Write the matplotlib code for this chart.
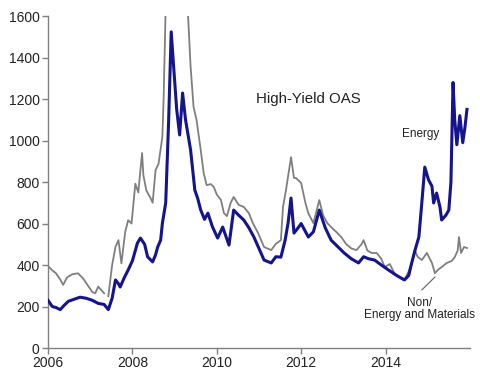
import numpy as np
import matplotlib
matplotlib.use("Agg")
import matplotlib.pyplot as plt

plt.rcParams['font.family'] = ['Liberation Sans', 'DejaVu Sans']

energy_years = [2006.00, 2006.10, 2006.19, 2006.29, 2006.38, 2006.48, 2006.62, 2006.76, 2006.90, 2007.05,
                2007.19, 2007.33, 2007.43, 2007.52, 2007.60, 2007.67, 2007.71, 2007.81, 2007.90, 2008.00,
                2008.12, 2008.19, 2008.29, 2008.36, 2008.48, 2008.55, 2008.60, 2008.67, 2008.71, 2008.79,
                2008.86, 2008.92, 2008.98, 2009.05, 2009.12, 2009.19, 2009.26, 2009.38, 2009.48, 2009.55,
                2009.62, 2009.71, 2009.79, 2009.90, 2010.02, 2010.14, 2010.29, 2010.40, 2010.52, 2010.64,
                2010.76, 2010.88, 2011.00, 2011.12, 2011.29, 2011.40, 2011.52, 2011.62, 2011.69, 2011.76,
                2011.83, 2011.93, 2012.00, 2012.17, 2012.29, 2012.43, 2012.57, 2012.71, 2012.86, 2013.02,
                2013.19, 2013.36, 2013.48, 2013.60, 2013.74, 2013.90, 2014.07, 2014.26, 2014.45, 2014.55,
                2014.62, 2014.71, 2014.79, 2014.86, 2014.93, 2015.02, 2015.10, 2015.14, 2015.21, 2015.29,
                2015.33, 2015.43, 2015.50, 2015.55, 2015.60, 2015.64, 2015.69, 2015.76, 2015.83, 2015.88,
                2015.93]
energy_oas = [230, 200, 195, 185, 205, 225, 235, 245, 240, 230,
              215, 210, 185, 240, 328, 310, 294, 340, 376, 420,
              506, 530, 500, 440, 415, 450, 487, 520, 600, 700,
              1100, 1524, 1350, 1150, 1027, 1229, 1100, 954, 761, 720,
              665, 620, 650, 583, 530, 583, 496, 665, 640, 617,
              580, 535, 480, 424, 410, 440, 438, 520, 602, 723,
              554, 580, 600, 535, 560, 665, 580, 520, 490, 458,
              430, 410, 440, 430, 424, 400, 376, 350, 328, 350,
              410, 480, 535, 700, 872, 810, 780, 699, 747, 680,
              617, 640, 665, 800, 1280, 1100, 980, 1120, 990, 1060,
              1150]

other_years = [2006.00, 2006.10, 2006.19, 2006.29, 2006.36, 2006.45, 2006.57, 2006.71, 2006.83, 2006.95,
               2007.05, 2007.12, 2007.19, 2007.26, 2007.33, 2007.38, 2007.43, 2007.52, 2007.60, 2007.67,
               2007.74, 2007.83, 2007.90, 2007.98, 2008.07, 2008.14, 2008.23, 2008.26, 2008.33, 2008.43,
               2008.48, 2008.55, 2008.62, 2008.71, 2008.74, 2008.79, 2008.90, 2009.05, 2009.19, 2009.32,
               2009.38, 2009.45, 2009.52, 2009.62, 2009.69, 2009.76, 2009.86, 2009.93, 2010.00, 2010.10,
               2010.17, 2010.24, 2010.33, 2010.40, 2010.52, 2010.64, 2010.76, 2010.86, 2010.98, 2011.12,
               2011.29, 2011.40, 2011.52, 2011.57, 2011.64, 2011.76, 2011.83, 2011.88, 2012.00, 2012.10,
               2012.17, 2012.29, 2012.43, 2012.52, 2012.62, 2012.71, 2012.83, 2012.95, 2013.07, 2013.19,
               2013.31, 2013.43, 2013.48, 2013.57, 2013.67, 2013.79, 2013.90, 2013.98, 2014.10, 2014.21,
               2014.33, 2014.45, 2014.55, 2014.62, 2014.69, 2014.76, 2014.86, 2014.98, 2015.05, 2015.10,
               2015.17, 2015.26, 2015.33, 2015.45, 2015.57, 2015.64, 2015.71, 2015.74, 2015.79, 2015.86,
               2015.93]
other_oas = [395, 375, 360, 330, 304, 340, 355, 360, 336, 300,
             270, 264, 296, 280, 264, np.nan, 250, 400, 488, 520,
             408, 560, 616, 600, 792, 750, 940, 834, 760, 723,
             700, 858, 888, 1017, 1200, 1650, 1900, 1950, 1800, 1600,
             1355, 1162, 1100, 954, 843, 785, 790, 776, 740, 713,
             650, 636, 700, 728, 690, 680, 650, 600, 554, 487,
             472, 502, 520, 680, 761, 920, 820, 819, 795, 700,
             650, 602, 713, 640, 602, 583, 560, 535, 500, 480,
             472, 500, 520, 470, 458, 458, 430, 390, 405, 360,
             340, 328, 370, 410, 472, 440, 424, 458, 430, 410,
             361, 380, 390, 410, 420, 438, 470, 535, 458, 487,
             482]

x_ticks = [2006, 2008, 2010, 2012, 2014]
y_ticks = [0, 200, 400, 600, 800, 1000, 1200, 1400, 1600]

fig = plt.figure(figsize=(4.8, 3.74), dpi=100)
ax = fig.add_axes([0.1, 0.0695, 0.879, 0.8875])

ax.plot(other_years, other_oas, color='#7f7f7f', lw=1.3, zorder=2)
ax.plot(energy_years, energy_oas, color='#14148f', lw=2.2, zorder=3)

ax.set_xlim(2006, 2016)
ax.set_ylim(0, 1600)
ax.set_xticks(x_ticks)
ax.set_yticks(y_ticks)
ax.set_xticklabels([str(t) for t in x_ticks])
ax.set_yticklabels([str(t) for t in y_ticks])

for s in ['top', 'right']:
    ax.spines[s].set_visible(False)
for s in ['left', 'bottom']:
    ax.spines[s].set_color('#808080')
    ax.spines[s].set_linewidth(1.0)
ax.tick_params(axis='both', colors='#808080', labelcolor='#222222', labelsize=10, length=4, width=1, direction='out', pad=2)

ax.text(2010.93, 1200, 'High-Yield OAS', fontsize=10.8, color='#222222', ha='left', va='center')
ax.text(2014.38, 1030, 'Energy', fontsize=8.5, color='#222222', ha='left', va='center')
ax.text(2014.8, 248, 'Non/\nEnergy and Materials', fontsize=8.5, color='#222222', ha='center', va='top', linespacing=1.1)
ax.plot([2014.86, 2015.17], [280, 342], color='#606060', lw=0.8)

fig.savefig('out.png', dpi=100)
